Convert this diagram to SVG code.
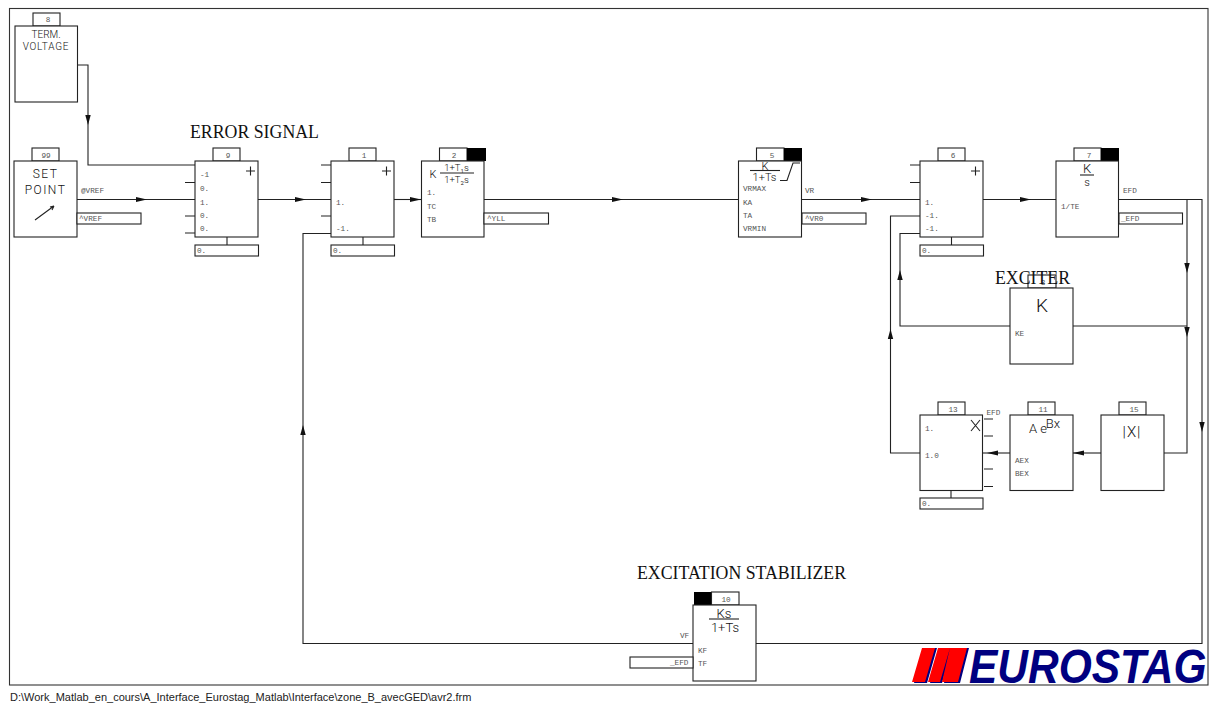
<svg xmlns="http://www.w3.org/2000/svg" width="1211" height="704" viewBox="0 0 1211 704">
<style>
.b{fill:#fff;stroke:#222;stroke-width:1.1}
.k{fill:#000;stroke:none}
.w{fill:none;stroke:#222;stroke-width:1.1}
.n{font:7.700px "Liberation Mono",monospace;fill:#555;text-anchor:middle}
.p{font:7.700px "Liberation Mono",monospace;fill:#555}
.f{font-family:"Roboto","Liberation Sans",sans-serif;font-weight:300;fill:#111;text-anchor:middle}
.t{font-family:"Liberation Serif",serif;font-size:17.800px;fill:#111}
.a{fill:#111;stroke:none}
</style>
<defs>
<path id="ar" class="a" d="M-11-2.500L0 0L-11 2.500Z"/>
<path id="ad" class="a" d="M-2.700-10L2.700-10L0 0Z"/>
<path id="al" class="a" d="M11-2.500L0 0L11 2.500Z"/>
<path id="au" class="a" d="M-2.700 10L2.700 10L0 0Z"/>
</defs>
<rect x="9.500" y="8.500" width="1198.500" height="676.500" fill="#fff" stroke="#333" stroke-width="1.100"/>
<g id="connectors">
<path class="w" d="M77 65H88V165H195"/><use href="#ad" x="88" y="125"/>
<path class="w" d="M77 199.500H195"/><use href="#ar" x="147" y="199.500"/>
<path class="w" d="M258 199.500H331"/><use href="#ar" x="306" y="199.500"/>
<path class="w" d="M394 199.500H421"/><use href="#ar" x="421" y="199.500"/>
<path class="w" d="M484 199.500H738"/><use href="#ar" x="623" y="199.500"/>
<path class="w" d="M802 199.500H920"/><use href="#ar" x="872" y="199.500"/>
<path class="w" d="M983 199.500H1056"/><use href="#ar" x="1031" y="199.500"/>
<path class="w" d="M1118 199.500H1202V643.500H303V233.500H331"/>
<path class="w" d="M1118 199.500H1187V453H1164"/>
<use href="#ad" x="1187" y="273"/><use href="#ad" x="1187" y="337"/><use href="#ad" x="1202" y="432"/>
<use href="#au" x="303" y="425"/>
<path class="w" d="M1073 326H1187"/>
<path class="w" d="M1010 326H900V233.500H920"/><use href="#au" x="900" y="270"/>
<path class="w" d="M920 216H890.500V453H920"/><use href="#au" x="890.500" y="329"/>
<path class="w" d="M1101 453H1073"/><use href="#al" x="1073" y="453"/>
<path class="w" d="M1010 453H982"/><use href="#al" x="987" y="453"/>
</g>
<g id="node8"><rect class="b" x="33" y="13" width="27" height="13"/><text class="n" x="48" y="22">8</text><rect class="b" x="15" y="26" width="62.500" height="76"/><text class="f" x="46" y="38" font-size="10">TERM.</text><text class="f" x="46" y="50" font-size="10" letter-spacing="0.800">VOLTAGE</text></g>
<g id="node99"><rect class="b" x="32" y="148" width="27" height="13"/><text class="n" x="46" y="158">99</text><rect class="b" x="14" y="161" width="63" height="76"/><text class="f" x="45.500" y="178" font-size="12" letter-spacing="1.500">SET</text><text class="f" x="45.500" y="194" font-size="12" letter-spacing="1.500">POINT</text><path class="w" d="M35 220L54 206M54 206L50 207M54 206L52 210"/><text class="p" x="81" y="193">@VREF</text><rect class="b" x="77" y="213" width="64" height="11"/><text class="p" x="79" y="221">^VREF</text></g>
<g id="node9"><rect class="b" x="213" y="148" width="27" height="13"/><text class="n" x="228" y="158">9</text><rect class="b" x="195" y="161" width="63" height="76"/><path class="w" d="M185 182.500H195M185 216H195M185 233H195M227 237V245"/><text class="p" x="200" y="177">-1</text><text class="p" x="200" y="191">0.</text><text class="p" x="200" y="205">1.</text><text class="p" x="200" y="218">0.</text><text class="p" x="200" y="231">0.</text><path class="w" d="M246 171H255M250.500 166.500V175.500"/><rect class="b" x="195" y="245" width="63.500" height="11"/><text class="p" x="197" y="253">0.</text></g>
<g id="node1"><rect class="b" x="349" y="148" width="27" height="13"/><text class="n" x="364" y="158">1</text><rect class="b" x="331" y="161" width="63" height="76"/><path class="w" d="M321 165H331M321 182.500H331M321 216H331M363 237V245"/><text class="p" x="336" y="205">1.</text><text class="p" x="336" y="231">-1.</text><path class="w" d="M382 171H391M386.500 166.500V175.500"/><rect class="b" x="331" y="245" width="63.500" height="11"/><text class="p" x="333" y="253">0.</text></g>
<g id="node2"><rect class="b" x="439.500" y="148" width="27.500" height="13"/><rect class="k" x="467" y="148" width="19" height="13"/><text class="n" x="454" y="158">2</text><rect class="b" x="421.500" y="161" width="62.500" height="76"/><text class="f" x="433" y="178" font-size="11">K</text><text class="f" x="456.500" y="171" font-size="9.500">1+T₁s</text><path class="w" d="M440 173H474"/><text class="f" x="456.500" y="183" font-size="9.500">1+T₂s</text><text class="p" x="427" y="195">1.</text><text class="p" x="427" y="209">TC</text><text class="p" x="427" y="222">TB</text><rect class="b" x="484" y="213" width="64.500" height="11"/><text class="p" x="487" y="221">^YLL</text></g>
<g id="node5"><rect class="b" x="756.500" y="148" width="27.500" height="13"/><rect class="k" x="784" y="148" width="18" height="13"/><text class="n" x="772" y="158">5</text><rect class="b" x="738.500" y="161" width="63" height="76"/><text class="f" x="765" y="170" font-size="11">K</text><path class="w" d="M750 170.500H780"/><text class="f" x="764.500" y="181" font-size="11">1+Ts</text><path class="w" d="M780 180.500H787L793 163H800"/><text class="p" x="743" y="191">VRMAX</text><text class="p" x="743" y="205">KA</text><text class="p" x="743" y="218">TA</text><text class="p" x="743" y="231">VRMIN</text><text class="p" x="805" y="193">VR</text><rect class="b" x="802" y="213" width="64" height="11"/><text class="p" x="805" y="221">^VR0</text></g>
<g id="node6"><rect class="b" x="938" y="148" width="27" height="13"/><text class="n" x="953" y="158">6</text><rect class="b" x="920" y="161" width="63" height="76"/><path class="w" d="M910 165H920M910 182.500H920M951.500 237V245"/><text class="p" x="925" y="205">1.</text><text class="p" x="925" y="218">-1.</text><text class="p" x="925" y="231">-1.</text><path class="w" d="M971 171H980M975.500 166.500V175.500"/><rect class="b" x="920" y="245" width="63.500" height="11"/><text class="p" x="922" y="253">0.</text></g>
<g id="node7"><rect class="b" x="1074" y="148" width="27" height="13"/><rect class="k" x="1101" y="148" width="18" height="13"/><text class="n" x="1089" y="158">7</text><rect class="b" x="1056" y="161" width="62.500" height="76"/><text class="f" x="1087" y="173" font-size="13">K</text><path class="w" d="M1080 175H1094"/><text class="f" x="1087" y="186" font-size="11">s</text><text class="p" x="1061" y="209">1/TE</text><text class="p" x="1123" y="193">EFD</text><rect class="b" x="1119" y="213" width="63.500" height="11"/><text class="p" x="1121" y="221">_EFD</text></g>
<g id="node3"><rect class="b" x="1028" y="275" width="28" height="13"/><text class="n" x="1043" y="285">3</text><rect class="b" x="1010" y="288" width="63" height="76"/><text class="f" x="1042" y="312" font-size="19">K</text><text class="p" x="1015" y="336">KE</text><text class="t" x="995" y="284">EXCITER</text></g>
<g id="node13"><rect class="b" x="938" y="402" width="27" height="13"/><text class="n" x="953" y="412">13</text><rect class="b" x="920" y="415" width="62.500" height="75.500"/><path class="w" d="M984 419H993M984 436H993M984 469H993M984 486.500H993M951 490.500V498"/><text class="p" x="925" y="431">1.</text><text class="p" x="925" y="458">1.0</text><path class="w" d="M971 420L980 431M980 420L971 431"/><text class="p" x="986.500" y="415">EFD</text><rect class="b" x="920" y="498" width="63" height="11"/><text class="p" x="922" y="506">0.</text></g>
<g id="node11"><rect class="b" x="1028" y="402" width="27" height="13"/><text class="n" x="1043" y="412">11</text><rect class="b" x="1010" y="415" width="63" height="75.500"/><text class="f" x="1038" y="433" font-size="13">A e</text><text class="f" x="1053" y="428" font-size="13">Bx</text><text class="p" x="1015" y="463">AEX</text><text class="p" x="1015" y="476">BEX</text></g>
<g id="node15"><rect class="b" x="1119" y="402" width="27" height="13"/><text class="n" x="1134" y="412">15</text><rect class="b" x="1101" y="415" width="63" height="75.500"/><text class="f" x="1132" y="437" font-size="15" letter-spacing="1">|X|</text></g>
<g id="node10"><rect class="k" x="694" y="592" width="18" height="13"/><rect class="b" x="711.500" y="592" width="27.500" height="13"/><text class="n" x="726" y="602">10</text><rect class="b" x="693" y="605" width="63" height="76"/><text class="f" x="724" y="618" font-size="13">Ks</text><path class="w" d="M709 619H739"/><text class="f" x="725" y="632" font-size="13">1+Ts</text><text class="p" x="680" y="638">VF</text><text class="p" x="698" y="653">KF</text><text class="p" x="698" y="666">TF</text><rect class="b" x="630" y="657" width="63" height="11"/><text class="p" x="670" y="665">_EFD</text></g>
<text class="t" x="190" y="138">ERROR SIGNAL</text>
<text class="t" x="637" y="579">EXCITATION STABILIZER</text>
<g id="logo"><path fill="#000080" d="M914 683L924 648H937L927 683ZM930 683L940 648H952L942 683ZM944 683L952 648H969L960 683Z"/><path fill="#f00" d="M912 682L922 648H935L925 682ZM928 682L938 648H950L940 682ZM942 682L950 648H967L958 682Z"/><text transform="translate(969 683) scale(0.885 1)" font-family="Liberation Sans,sans-serif" font-weight="bold" font-style="italic" font-size="48" fill="#000080">EUROSTAG</text></g>
<text x="10" y="701" font-family="Liberation Sans,sans-serif" font-size="11" fill="#222">D:\Work_Matlab_en_cours\A_Interface_Eurostag_Matlab\Interface\zone_B_avecGED\avr2.frm</text>
</svg>
